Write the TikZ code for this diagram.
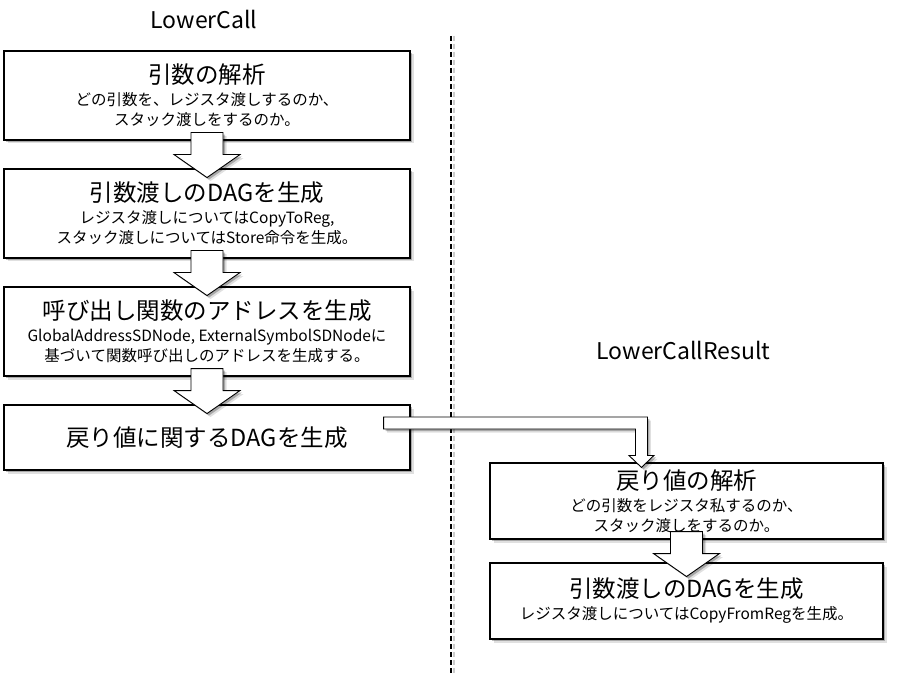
\documentclass[tikz,border=0pt]{standalone}
\usepackage{fontspec}
\setmainfont{Noto Sans CJK JP}
\usetikzlibrary{calc,shadows}
\newcommand{\ttl}[1]{{\fontsize{23.5}{26}\selectfont #1}}
\newcommand{\blockdown}[2]{%
  \draw[barrow] let \p1=(#1.south), \p2=(#2.north) in
    (\x1-16pt,\y1+8pt) -- (\x1+16pt,\y1+8pt) -- (\x1+16pt,\y1-14pt) --
    (\x1+33pt,\y1-14pt) -- (\x1,\y1-37pt) -- (\x1-33pt,\y1-14pt) --
    (\x1-16pt,\y1-14pt) -- cycle;}
\begin{document}
\begin{tikzpicture}[x=1pt,y=-1pt,
  shad/.style={drop shadow={shadow xshift=3.5pt,shadow yshift=-3.5pt,opacity=0.12,fill=black},
               drop shadow={shadow xshift=2pt,shadow yshift=-2pt,opacity=0.25,fill=black}},
  box/.style={draw=black,line width=1.1pt,fill=white,shad,inner sep=0pt,align=center,
              font=\fontsize{15.5}{20}\selectfont},
  lbox/.style={box,minimum width=406pt},
  rbox/.style={box,minimum width=393pt,minimum height=76pt},
  barrow/.style={draw=black,line width=0.9pt,fill=white,line join=miter,shad},
  head/.style={font=\fontsize{23}{26}\selectfont,inner sep=0pt},
  divider/.style={line width=2pt,dash pattern=on 5pt off 3pt}]
\useasboundingbox (0,0) rectangle (909,684);

\node[head] (t1) at (204,20) {LowerCall};
\node[head] (t2) at (683.5,350) {LowerCallResult};

\coordinate (d1) at (451,36);
\coordinate (d2) at (451,674);
\draw[divider,black!20,transform canvas={xshift=2.5pt}] (d1) -- (d2);
\draw[divider] (d1) -- (d2);

\node[lbox,minimum height=89pt] (b1) at (207,95.5)
  {\ttl{引数の解析}\\[2pt]どの引数を、レジスタ渡しするのか、\\スタック渡しをするのか。};
\node[lbox,minimum height=89pt] (b2) at (207,213.5)
  {\ttl{引数渡しのDAGを生成}\\[2pt]レジスタ渡しについてはCopyToReg,\\スタック渡しについてはStore命令を生成。};
\node[lbox,minimum height=89pt] (b3) at (207,331.5)
  {\ttl{呼び出し関数のアドレスを生成}\\[2pt]GlobalAddressSDNode, ExternalSymbolSDNodeに\\基づいて関数呼び出しのアドレスを生成する。};
\node[lbox,minimum height=65pt] (b4) at (207,437.5)
  {\ttl{戻り値に関するDAGを生成}};
\node[rbox] (b5) at (686.5,501)
  {\ttl{戻り値の解析}\\[2pt]どの引数をレジスタ私するのか、\\スタック渡しをするのか。};
\node[rbox] (b6) at (686.5,601)
  {\ttl{引数渡しのDAGを生成}\\[2pt]レジスタ渡しについてはCopyFromRegを生成。};

\blockdown{b1}{b2}
\blockdown{b2}{b3}
\blockdown{b3}{b4}
\blockdown{b5}{b6}

\draw[barrow] let \p1=(b4.east), \p2=(b5.north west) in
  (\x1-27pt,\y1+20.5pt) -- (\x2+158pt,\y1+20.5pt) -- (\x2+158pt,\y2+7pt) --
  (\x2+164.5pt,\y2+7pt) -- (\x2+152pt,\y2-5pt) -- (\x2+139.5pt,\y2+7pt) --
  (\x2+146pt,\y2+7pt) -- (\x2+146pt,\y1+8.5pt) -- (\x1-27pt,\y1+8.5pt) -- cycle;
\end{tikzpicture}
\end{document}
